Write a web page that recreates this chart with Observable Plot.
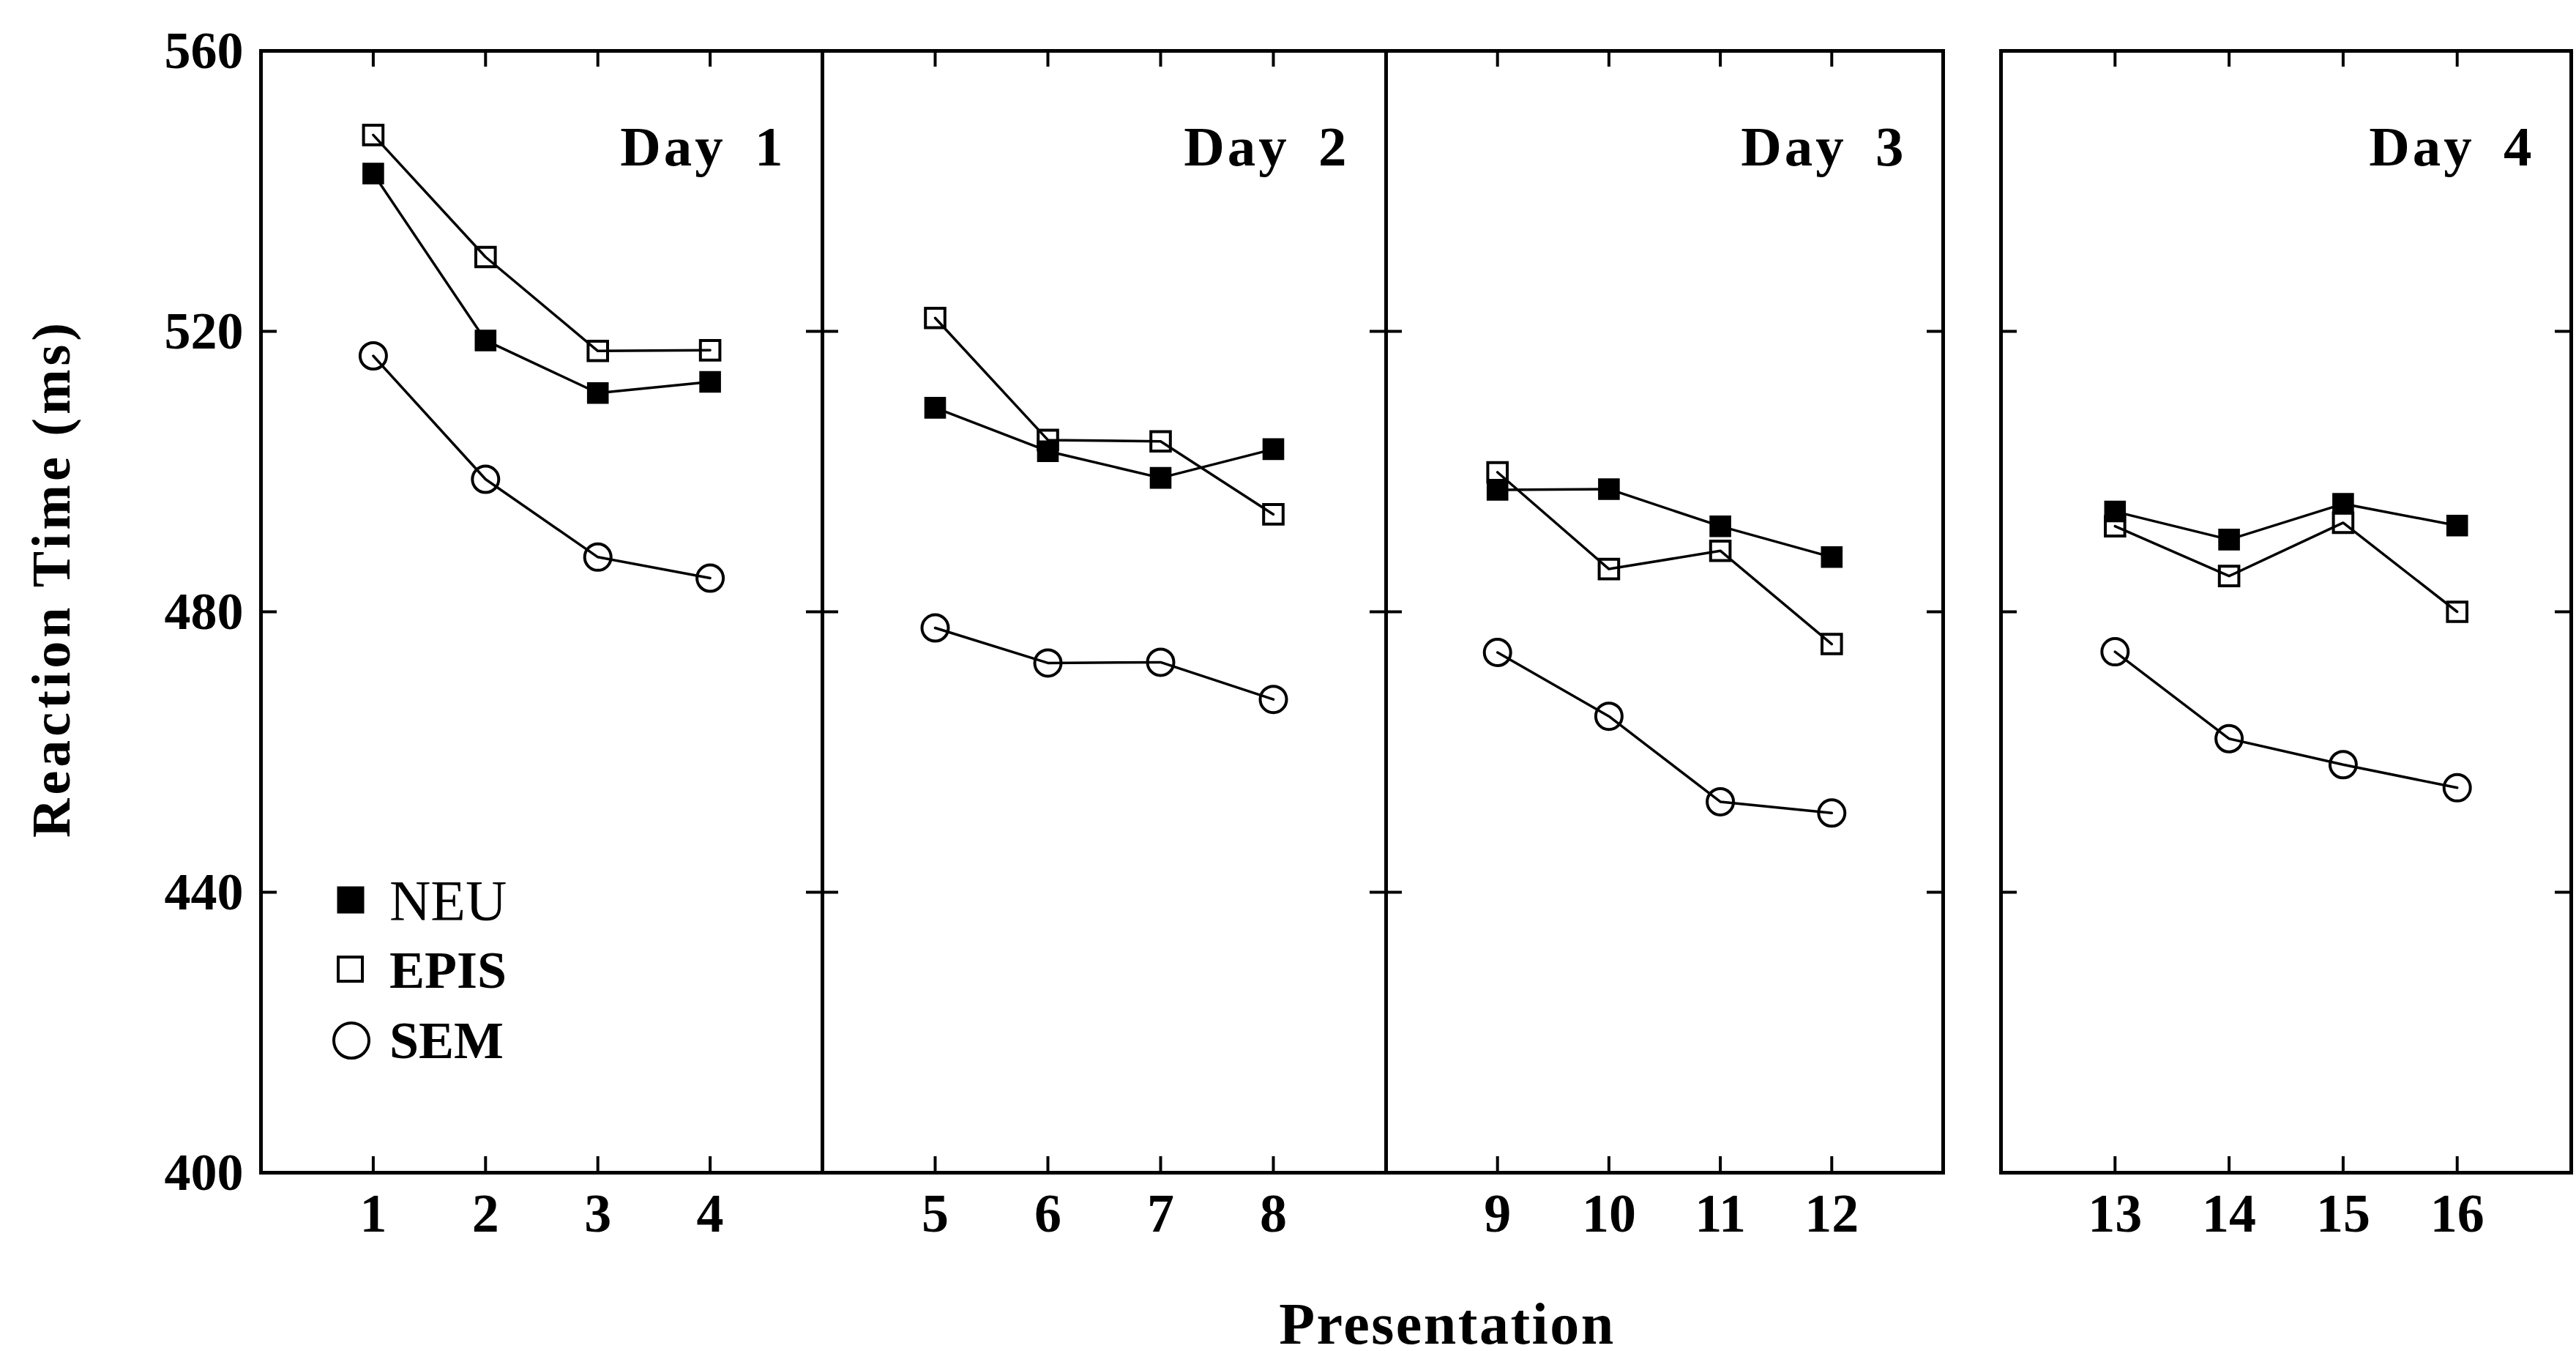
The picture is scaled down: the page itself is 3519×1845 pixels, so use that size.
<!DOCTYPE html>
<html>
<head>
<meta charset="utf-8">
<script src="https://cdn.jsdelivr.net/npm/d3@7"></script>
<script src="https://cdn.jsdelivr.net/npm/@observablehq/plot@0.6"></script>
<style>
html, body { margin: 0; padding: 0; background: #fff; overflow: hidden; }
#chart { position: relative; width: 3519px; height: 1845px; background: #fff; font-family: "Liberation Serif", serif; color: #000; }
#chart svg { position: absolute; top: 0; overflow: visible; }
#chart g[aria-label="text"] text { letter-spacing: 4px; word-spacing: 16px; }
#ylabel { position: absolute; left: 70px; top: 790px; transform: translate(-50%, -50%) rotate(-90deg); font-size: 74px; font-weight: bold; letter-spacing: 5px; white-space: nowrap; line-height: 1; }
#xlabel { position: absolute; left: 1977px; top: 1776px; transform: translateX(-50%); font-size: 80px; font-weight: bold; letter-spacing: 2.5px; white-space: nowrap; line-height: 0.8; }
#legend { position: absolute; left: 452px; top: 1182px; }
#legend .row { display: flex; align-items: center; height: 95.5px; }
#legend .row svg { position: static; width: 56px; height: 56px; margin-right: 24px; }
#legend .row span { line-height: 1; white-space: nowrap; }
</style>
</head>
<body>
<div id="chart"></div>
<script>
// ---- data ----
const seriesNames = ["NEU", "EPIS", "SEM"];
const dayLabels = ["Day 1", "Day 2", "Day 3", "Day 4"];
const presentation = [1, 2, 3, 4, 5, 6, 7, 8, 9, 10, 11, 12, 13, 14, 15, 16];
const presentationDay = [1, 1, 1, 1, 2, 2, 2, 2, 3, 3, 3, 3, 4, 4, 4, 4];
const neu  = [542.5, 518.7, 511.2, 512.8, 509.1, 502.9, 499.1, 503.2, 497.4, 497.5, 492.2, 487.8, 494.3, 490.3, 495.4, 492.3];
const epis = [548.0, 530.6, 517.2, 517.3, 521.9, 504.5, 504.3, 493.9, 499.9, 486.1, 488.7, 475.4, 492.2, 485.1, 492.7, 480.0];
const sem  = [516.5, 498.9, 487.8, 484.8, 477.7, 472.7, 472.8, 467.5, 474.2, 465.1, 452.9, 451.3, 474.3, 461.9, 458.2, 454.9];
const yTicks = [400, 440, 480, 520, 560];
const xTitle = "Presentation";
const yTitle = "Reaction Time (ms)";

// ---- table built from the arrays ----
const seriesValues = [neu, epis, sem];
const rows = [];
presentation.forEach((p, i) => {
  seriesNames.forEach((s, k) => {
    rows.push({presentation: p, day: presentationDay[i], series: s, rt: seriesValues[k][i]});
  });
});

// ---- layout ----
const panels = [
  {left: 356, right: 1123},
  {left: 1123, right: 1893},
  {left: 1893, right: 2654},
  {left: 2733, right: 3512}
];
const frameTop = 69, frameBottom = 1601, svgH = 1725, tickLen = 22;
const chart = document.getElementById("chart");

panels.forEach((panel, d) => {
  const pres = presentation.filter((p, i) => presentationDay[i] === d + 1);
  const dayRows = rows.filter(r => r.day === d + 1);
  const mL = d === 0 ? panel.left : 10, mR = 6;
  const innerW = panel.right - panel.left, innerH = frameBottom - frameTop;
  const marks = [
    Plot.ruleY(yTicks, {insetRight: innerW - tickLen, strokeWidth: 4}),
    Plot.ruleY(yTicks, {insetLeft: innerW - tickLen, strokeWidth: 4}),
    Plot.ruleX(pres, {insetBottom: innerH - tickLen, strokeWidth: 4}),
    Plot.ruleX(pres, {insetTop: innerH - tickLen, strokeWidth: 4}),
    Plot.frame({strokeWidth: 5}),
    Plot.axisX(pres, {anchor: "bottom", tickSize: 0, tickPadding: 28, label: null, tickFormat: d3.format("d"), fontSize: 74, fontWeight: "bold"}),
    d === 0 ? Plot.axisY(yTicks, {anchor: "left", tickSize: 0, tickPadding: 24, label: null, tickFormat: d3.format("d"), fontSize: 72, fontWeight: "bold"}) : null,
    Plot.line(dayRows, {x: "presentation", y: "rt", z: "series", stroke: "black", strokeWidth: 3.5}),
    Plot.dot(dayRows.filter(r => r.series === "NEU"), {x: "presentation", y: "rt", symbol: "square", r: 15, fill: "black", stroke: "black", strokeWidth: 3}),
    Plot.dot(dayRows.filter(r => r.series === "EPIS"), {x: "presentation", y: "rt", symbol: "square", r: 15, fill: "none", stroke: "black", strokeWidth: 4}),
    Plot.dot(dayRows.filter(r => r.series === "SEM"), {x: "presentation", y: "rt", symbol: "circle", r: 18, fill: "none", stroke: "black", strokeWidth: 4}),
    Plot.text([dayLabels[d]], {text: t => t, frameAnchor: "top-right", dx: -50, dy: 156, textAnchor: "end", lineAnchor: "bottom", fontSize: 77, fontWeight: "bold"})
  ].filter(Boolean);
  const svg = Plot.plot({
    width: innerW + mL + mR,
    height: svgH,
    marginLeft: mL,
    marginRight: mR,
    marginTop: frameTop,
    marginBottom: svgH - frameBottom,
    style: {fontFamily: "Liberation Serif", fontSize: "72px", background: "transparent", overflow: "visible", color: "black"},
    x: {domain: [pres[0] - 1, pres[pres.length - 1] + 1]},
    y: {domain: [400, 560], axis: d === 0 ? undefined : null},
    marks
  });
  svg.style.left = (panel.left - mL) + "px";
  svg.style.maxWidth = "none";
  chart.appendChild(svg);
});

// axis titles
const yl = document.createElement("div");
yl.id = "ylabel"; yl.textContent = yTitle; chart.appendChild(yl);
const xl = document.createElement("div");
xl.id = "xlabel"; xl.textContent = xTitle; chart.appendChild(xl);

// legend (inside Day 1 panel)
const legend = document.createElement("div");
legend.id = "legend";
const legendStyles = {
  NEU:  {shape: '<rect x="10" y="10" width="34" height="34" fill="black" stroke="black" stroke-width="3"/>', size: 78, weight: "normal"},
  EPIS: {shape: '<rect x="10" y="10" width="33" height="33" fill="none" stroke="black" stroke-width="4"/>', size: 72, weight: "bold"},
  SEM:  {shape: '<circle cx="28" cy="28" r="24" fill="none" stroke="black" stroke-width="4"/>', size: 72, weight: "bold"}
};
seriesNames.forEach(s => {
  const st = legendStyles[s];
  const row = document.createElement("div");
  row.className = "row";
  row.innerHTML = `<svg viewBox="0 0 56 56">${st.shape}</svg><span style="font-size:${st.size}px;font-weight:${st.weight}">${s}</span>`;
  legend.appendChild(row);
});
chart.appendChild(legend);
</script>
</body>
</html>
